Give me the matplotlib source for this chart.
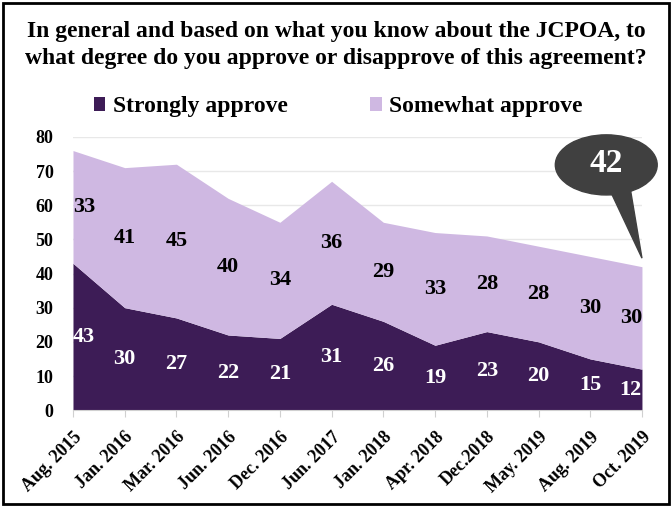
import matplotlib.pyplot as plt
from matplotlib.patches import Ellipse, Polygon, Rectangle
import numpy as np

plt.rcParams['font.family'] = ['Liberation Serif', 'DejaVu Serif']
plt.rcParams['font.weight'] = 'bold'

# data
dates = ["Aug. 2015", "Jan. 2016", "Mar. 2016", "Jun. 2016", "Dec. 2016", "Jun. 2017",
         "Jan. 2018", "Apr. 2018", "Dec.2018", "May. 2019", "Aug. 2019", "Oct. 2019"]
strongly = [43, 30, 27, 22, 21, 31, 26, 19, 23, 20, 15, 12]
somewhat = [33, 41, 45, 40, 34, 36, 29, 33, 28, 28, 30, 30]
callout = 42

dark = "#3D1C56"
light = "#CFB8E2"

x = np.arange(len(dates))
s = np.array(strongly)
w = np.array(somewhat)

fig = plt.figure(figsize=(6.72, 5.07), dpi=100)
ax = fig.add_axes([0.1086, 0.191, 0.8467, 0.539])

ax.fill_between(x, 0, s, color=dark, lw=0, label="Strongly approve")
ax.fill_between(x, s, s + w, color=light, lw=0, label="Somewhat approve")

ax.set_xlim(0, len(dates) - 1)
ax.set_ylim(0, 80)
ax.set_yticks(range(0, 81, 10))
ax.set_xticks(x)
ax.set_xticklabels(dates, rotation=45, ha="right", rotation_mode="anchor", fontsize=13)
ax.tick_params(axis="y", length=0, labelsize=13, pad=14)
ax.tick_params(axis="x", length=5, color="#d0d0d0", labelsize=13, pad=8)
ax.grid(axis="y", color="#e8e8e8", lw=1)
ax.set_axisbelow(True)
for sp in ["top", "right", "left"]:
    ax.spines[sp].set_visible(False)
ax.spines["bottom"].set_color("#d0d0d0")

# value labels
for i in x:
    ha = "center"
    if i == 0:
        ha = "left"
    elif i == len(dates) - 1:
        ha = "right"
    ax.text(i, s[i] / 2, str(s[i]), color="white", ha=ha, va="center", fontsize=16)
    ax.text(i, s[i] + w[i] / 2, str(w[i]), color="black", ha=ha, va="center", fontsize=16)

# speech bubble
bx, by = 10.31, 71.8
tail = Polygon([[10.3, 67], [10.75, 67], [11, callout + 2.5]], closed=True,
               color="#404040", clip_on=False, zorder=5)
ax.add_patch(tail)
bubble = Ellipse((bx, by), 1.97, 17.6, color="#404040", clip_on=False, zorder=5)
ax.add_patch(bubble)
ax.text(bx, by + 0.5, str(callout), color="white", ha="center", va="center",
        fontsize=24, zorder=6)

# title and legend
fig.text(0.5, 0.958, "In general and based on what you know about the JCPOA, to\n"
         "what degree do you approve or disapprove of this agreement?",
         ha="center", va="top", fontsize=17, linespacing=1.38)
fig.legend(loc="center", bbox_to_anchor=(0.503, 0.789), ncol=2, frameon=False,
           fontsize=17, handlelength=0.5, handleheight=0.5, columnspacing=3.5,
           handletextpad=0.3)

fig.patches.append(Rectangle((0.004, 0.005), 0.992, 0.99, transform=fig.transFigure,
                             fill=False, ec="black", lw=2))

fig.savefig("out.png", dpi=100)
